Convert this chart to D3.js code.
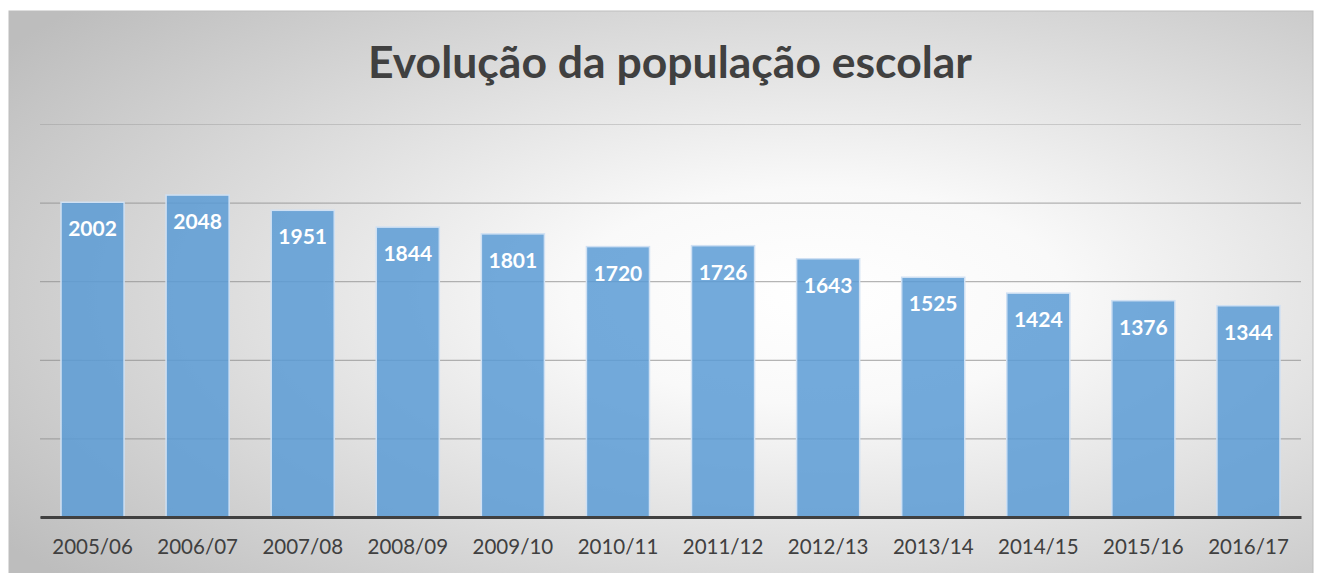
<!DOCTYPE html>
<html>
<head>
<meta charset="utf-8">
<script src="https://cdn.jsdelivr.net/npm/d3@7"></script>
<style>
  body { margin: 0; background: #fff; }
  text { font-family: Lato, "Open Sans", sans-serif; }
</style>
</head>
<body>
<div id="chart"></div>
<script>
var svgWidth = 1317;
var svgHeight = 573;

// data
var years = ["2005/06", "2006/07", "2007/08", "2008/09", "2009/10", "2010/11",
             "2011/12", "2012/13", "2013/14", "2014/15", "2015/16", "2016/17"];
var alunos = [2002, 2048, 1951, 1844, 1801, 1720, 1726, 1643, 1525, 1424, 1376, 1344];
var gridTicks = [0, 500, 1000, 1500, 2000, 2500];

var frame = { x: 9, y: 11, w: 1304, h: 570 };
var margin = { top: 124, right: 16, bottom: 56, left: 40 };

var width = svgWidth - margin.left - margin.right;
var height = svgHeight - margin.top - margin.bottom;

var svg = d3.select("#chart")
  .append("svg")
  .attr("width", svgWidth)
  .attr("height", svgHeight);

var defs = svg.append("defs");
var grad = defs.append("radialGradient")
  .attr("id", "bg")
  .attr("cx", "62%")
  .attr("cy", "50%")
  .attr("r", "76%");
grad.append("stop").attr("offset", "0%").attr("stop-color", "#ffffff");
grad.append("stop").attr("offset", "25%").attr("stop-color", "#f9f9f9");
grad.append("stop").attr("offset", "100%").attr("stop-color", "#bdbdbd");

svg.append("rect")
  .attr("x", frame.x)
  .attr("y", frame.y)
  .attr("width", frame.w)
  .attr("height", frame.h)
  .attr("fill", "url(#bg)")
  .attr("stroke", "#bdbdbd")
  .attr("stroke-width", 1);

svg.append("text")
  .attr("x", 670)
  .attr("y", 78)
  .attr("text-anchor", "middle")
  .attr("font-size", 44.5)
  .attr("font-weight", "bold")
  .attr("fill", "#404040")
  .text("Evolução da população escolar");

var chartGroup = svg.append("g")
  .attr("transform", `translate(${margin.left}, ${margin.top})`);

var xScale = d3.scaleBand()
  .domain(years)
  .range([0, width])
  .paddingInner(0.4)
  .paddingOuter(0.2);

var yScale = d3.scaleLinear()
  .domain([0, 2500])
  .range([height, 0]);

// gridlines
chartGroup.append("g")
  .call(d3.axisLeft(yScale).tickValues(gridTicks).tickSize(-width).tickFormat(""))
  .call(g => g.select(".domain").remove())
  .call(g => g.selectAll(".tick line")
    .attr("stroke", "#8c8c8c")
    .attr("stroke-opacity", d => d === 2500 ? 0.35 : 0.8));

// bars
chartGroup.selectAll(".bar")
  .data(alunos)
  .enter()
  .append("rect")
  .attr("class", "bar")
  .attr("x", (d, i) => xScale(years[i]))
  .attr("y", d => yScale(d))
  .attr("width", xScale.bandwidth())
  .attr("height", d => height - yScale(d))
  .attr("fill", "#5b9bd5")
  .attr("fill-opacity", 0.85)
  .attr("stroke", "#cfe0f3")
  .attr("stroke-width", 1.5);

// value labels
chartGroup.selectAll(".lbl")
  .data(alunos)
  .enter()
  .append("text")
  .attr("class", "lbl")
  .attr("x", (d, i) => xScale(years[i]) + xScale.bandwidth() / 2)
  .attr("y", d => yScale(d) + 34)
  .attr("text-anchor", "middle")
  .attr("font-size", 21)
  .attr("font-weight", "bold")
  .attr("fill", "#ffffff")
  .text(d => d);

// x axis
var xAxis = chartGroup.append("g")
  .attr("transform", `translate(0, ${height})`)
  .call(d3.axisBottom(xScale).tickSize(0).tickPadding(22));

xAxis.select(".domain")
  .attr("stroke", "#404040")
  .attr("stroke-width", 3);

xAxis.selectAll("text")
  .attr("font-size", 20.5)
  .attr("fill", "#404040")
  .style("font-family", "Lato, 'Open Sans', sans-serif");
</script>
</body>
</html>
